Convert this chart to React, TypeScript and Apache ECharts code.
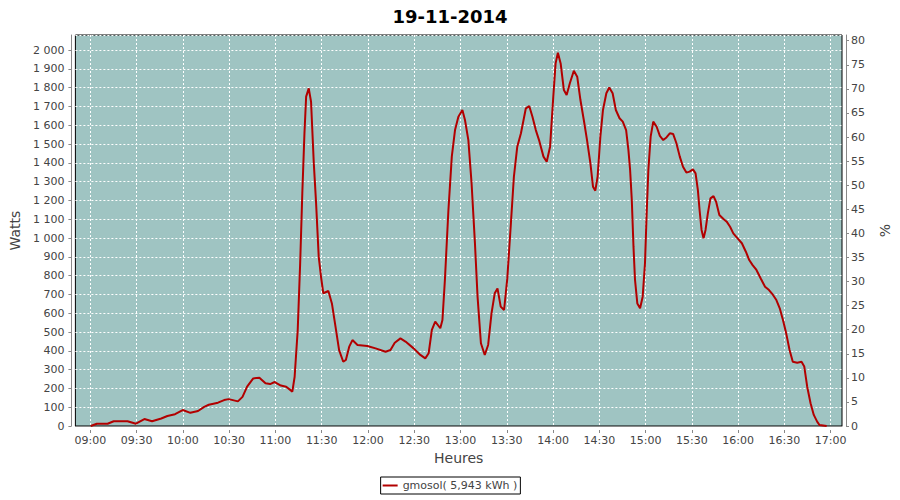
import React, { useEffect, useRef } from "react";
import * as echarts from "echarts";

// Chart texts
const titleText = "19-11-2014";
const xName = "Heures";
const yLeftName = "Watts";
const yRightName = "%";
const seriesName = "gmosol( 5,943 kWh )";

// Minutes after 09:00 for each sample
const minutes = [
  0, 4, 11, 15, 24, 29.5, 35, 40, 46, 50, 55, 60, 65, 70, 74, 77, 83, 87, 90, 96,
  99, 102, 106, 110, 114, 117, 120, 124, 127.5, 131.5, 133, 135, 136.6, 138, 139.4, 140.5, 142.2, 143.7, 145.5, 147,
  148.7, 150.2, 151.7, 155, 157.3, 160, 162, 164.7, 166.4, 168.6, 170.7, 174, 180.4, 185.8, 192.3, 195.5, 198.3, 202, 205.3, 210.6,
  215, 218.2, 220.4, 222.5, 224.7, 228, 229.4, 231, 233.3, 235.5, 237.6, 239.8, 242.4, 244.1, 246.3, 248.4, 250.6, 252.3, 254.5, 257,
  259.2, 261.4, 263.5, 265.3, 267.4, 269.6, 271.7, 273.9, 276, 278.2, 280.6, 283.8, 286, 288.1, 290.3, 292.4, 295.3, 297.4, 299.6, 301.7,
  303.2, 304.7, 306.5, 308.6, 310.4, 312.5, 315.1, 317.3, 319.4, 321.6, 323.7, 325.9, 327.6, 329.1, 330.6, 332.4, 334.1, 336.3, 338.2, 340.4,
  342.5, 344.9, 347, 349.2, 350.7, 351.8, 352.9, 354, 355, 356.5, 358.3, 360, 361.5, 362.6, 363.7, 365.2, 366.9, 369.1, 371.2, 373.4,
  375.5, 377.7, 379.9, 382, 384.2, 386.3, 388.5, 390.6, 392.8, 394.5, 396, 397.1, 398.4, 399.7, 401, 402.5, 404.2, 406.2, 407.9, 410,
  412.7, 414.8, 417, 419.1, 421.9, 424.7, 427.3, 429.5, 431.7, 434.2, 437, 439.8, 442.4, 445, 447.2, 449.4, 451.5, 453.6, 455.8, 457.9,
  460.8, 463.6, 465.4, 467.3, 469.5, 471.6, 473.8, 475.3, 480,
];

// Power in watts for each sample
const watts = [
  0, 12, 12, 25, 25, 12, 37, 25, 40, 53, 63, 85, 70, 80, 102, 113, 124, 138, 143, 131,
  155, 209, 253, 257, 227, 223, 234, 215, 209, 183, 262, 510, 865, 1238, 1557, 1752, 1796, 1725, 1397, 1184,
  901, 794, 706, 718, 652, 510, 404, 342, 351, 422, 457, 431, 426, 413, 395, 404, 443, 466, 449, 413,
  378, 360, 387, 511, 555, 520, 564, 777, 1149, 1433, 1574, 1645, 1681, 1628, 1521, 1291, 972, 688, 440, 378,
  431, 599, 706, 732, 635, 617, 785, 1060, 1326, 1486, 1557, 1690, 1702, 1645, 1574, 1521, 1433, 1406, 1486, 1752,
  1929, 1986, 1929, 1787, 1761, 1823, 1890, 1858, 1734, 1628, 1521, 1397, 1273, 1252, 1326, 1539, 1681, 1770, 1801, 1770,
  1681, 1637, 1619, 1574, 1468, 1362, 1202, 954, 777, 652, 626, 688, 865, 1131, 1362, 1539, 1619, 1592, 1543, 1521,
  1535, 1557, 1553, 1504, 1433, 1379, 1348, 1353, 1365, 1344, 1255, 1149, 1043, 998, 1043, 1131, 1211, 1223, 1193, 1122,
  1101, 1087, 1060, 1025, 998, 972, 927, 883, 856, 830, 785, 741, 723, 697, 670, 626, 564, 493, 404, 342,
  337, 342, 316, 209, 121, 59, 23, 5, 0,
];

const FONT = "DejaVu Sans";
const LABEL = "#444444";
const AXIS = "#888888";

function fmtThousands(v: number): string {
  if (Math.abs(v % 100) > 1e-6) return "";
  if (v >= 1000) {
    const th = Math.floor(v / 1000);
    const rest = String(v % 1000).padStart(3, "0");
    return th + " " + rest;
  }
  return String(v);
}

function fmtTime(v: number): string {
  const total = 540 + v;
  const h = Math.floor(total / 60);
  const m = Math.round(total % 60);
  return String(h).padStart(2, "0") + ":" + String(m).padStart(2, "0");
}

export default function App() {
  const ref = useRef<HTMLDivElement>(null);
  useEffect(() => {
    if (!ref.current) return;
    const chart = echarts.init(ref.current, undefined, { renderer: "svg" });
    const gLeft = 75;
    const gTop = 35;
    const gW = 771;
    const gH = 391;
    const xMin = -10;
    const xMax = 490;
    const pxPerMin = gW / (xMax - xMin);
    const data = minutes.map((m, i) => [m, watts[i]]);
    chart.setOption({
      animation: false,
      backgroundColor: "#ffffff",
      textStyle: { fontFamily: FONT },
      title: {
        text: titleText,
        left: "center",
        top: 2,
        textStyle: { fontFamily: FONT, fontSize: 18, fontWeight: "bold", color: "#000" },
      },
      legend: {
        data: [seriesName],
        left: "center",
        top: 477,
        icon: "rect",
        itemWidth: 15,
        itemHeight: 2,
        padding: [3, 3, 3, 2],
        borderColor: "#000",
        borderWidth: 1,
        textStyle: { fontFamily: FONT, fontSize: 11, color: LABEL },
      },
      grid: [
        {
          left: gLeft,
          top: gTop,
          width: gW,
          height: gH,
          show: true,
          backgroundColor: "#9fc4c2",
          borderColor: "#000",
          borderWidth: 1,
        },
        {
          left: gLeft + (0 - xMin) * pxPerMin,
          top: gTop,
          width: 480 * pxPerMin,
          height: gH,
          show: false,
        },
      ],
      xAxis: [
        {
          type: "value",
          gridIndex: 0,
          min: xMin,
          max: xMax,
          offset: 4,
          axisLine: { show: true, lineStyle: { color: AXIS, width: 1 } },
          axisTick: { show: false },
          axisLabel: { show: false },
          splitLine: { show: false },
          name: xName,
          nameLocation: "middle",
          nameGap: 21,
          nameTextStyle: { fontFamily: FONT, fontSize: 14, color: LABEL },
        },
        {
          type: "value",
          gridIndex: 1,
          min: 0,
          max: 480,
          interval: 30,
          offset: 4,
          axisLine: { show: false, onZero: false },
          axisTick: { show: true, length: 3, lineStyle: { color: AXIS } },
          axisLabel: {
            show: true,
            margin: 5,
            fontFamily: FONT,
            fontSize: 11,
            color: LABEL,
            formatter: (v: number) => fmtTime(v),
          },
          splitLine: { show: true, lineStyle: { color: "#ffffff", type: [2, 2], width: 1 } },
        },
      ],
      yAxis: [
        {
          type: "value",
          gridIndex: 0,
          position: "left",
          min: 0,
          max: 2080,
          interval: 100,
          offset: 4,
          axisLine: { show: true, onZero: false, lineStyle: { color: AXIS } },
          axisTick: { show: true, length: 3, lineStyle: { color: AXIS } },
          axisLabel: {
            margin: 7,
            fontFamily: FONT,
            fontSize: 11,
            color: LABEL,
            showMaxLabel: false,
            formatter: (v: number) => fmtThousands(v),
          },
          splitLine: { show: true, lineStyle: { color: "#ffffff", type: [2, 2], width: 1 } },
          name: yLeftName,
          nameLocation: "middle",
          nameGap: 43,
          nameTextStyle: { fontFamily: FONT, fontSize: 14, color: LABEL },
        },
        {
          type: "value",
          gridIndex: 0,
          position: "right",
          min: 0,
          max: 81.18,
          interval: 5,
          offset: 4,
          axisLine: { show: true, onZero: false, lineStyle: { color: AXIS } },
          axisTick: { show: true, length: 3, lineStyle: { color: AXIS } },
          axisLabel: {
            margin: 5,
            fontFamily: FONT,
            fontSize: 11,
            color: LABEL,
            showMaxLabel: false,
            formatter: (v: number) => (Math.abs(v % 5) > 1e-6 ? "" : String(v)),
          },
          splitLine: { show: false },
          name: yRightName,
          nameLocation: "middle",
          nameGap: 32,
          nameTextStyle: { fontFamily: FONT, fontSize: 14, color: LABEL },
        },
        {
          type: "value",
          gridIndex: 1,
          show: false,
          min: 0,
          max: 1,
          axisLine: { show: false },
          axisTick: { show: false },
          axisLabel: { show: false },
          splitLine: { show: false },
          splitArea: { show: false },
        },
      ],
      series: [
        {
          name: seriesName,
          type: "line",
          xAxisIndex: 0,
          yAxisIndex: 0,
          data,
          showSymbol: false,
          symbol: "none",
          smooth: false,
          lineStyle: { color: "#b20000", width: 2 },
          itemStyle: { color: "#b20000" },
          z: 5,
        },
      ],
    });
    return () => chart.dispose();
  }, []);
  return (
    <div
      ref={ref}
      style={{ position: "fixed", left: 0, top: 0, width: 900, height: 500 }}
    />
  );
}
